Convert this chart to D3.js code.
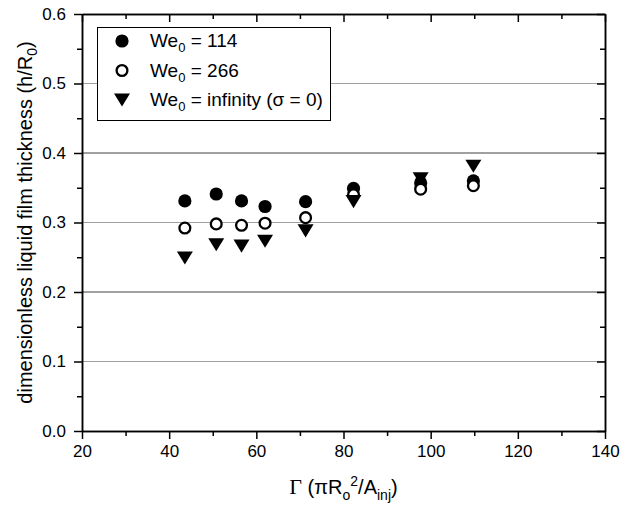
<!DOCTYPE html>
<html>
<head>
    <meta charset="utf-8">
    <title>Dimensionless liquid film thickness</title>
    <style>
        body { margin: 0; background: #fff; }
        svg { display: block; font-family: "Liberation Sans", Arial, sans-serif; }
        .grid line { stroke: #a0a0a0; stroke-width: 1.5px; shape-rendering: crispEdges; }
    </style>
</head>
<body>
<div id="chart"></div>
<script src="https://d3js.org/d3.v7.min.js"></script>
<script type="text/javascript">

// values
var gamma   = [43.6, 50.8, 56.6, 62.0, 71.3, 82.3, 97.7, 109.8];
var we114   = [0.331, 0.341, 0.331, 0.323, 0.330, 0.349, 0.357, 0.360];
var we266   = [0.292, 0.298, 0.296, 0.299, 0.307, 0.340, 0.348, 0.353];
var weInf   = [0.249, 0.268, 0.266, 0.273, 0.288, 0.330, 0.363, 0.381];

var xTicks = [20, 40, 60, 80, 100, 120, 140];
var yTicks = [0.0, 0.1, 0.2, 0.3, 0.4, 0.5, 0.6];
var gridTicks = [0.1, 0.2, 0.3, 0.4, 0.5];

var legendNames = ["114", "266", "infinity (\u03c3 = 0)"];

var width = 621, height = 508;
var plotLeft = 82, plotRight = 605, plotTop = 14, plotBottom = 431;

var x = d3.scaleLinear().domain([20, 140]).range([plotLeft, plotRight]);
var y = d3.scaleLinear().domain([0, 0.6]).range([plotBottom, plotTop]);

var svg = d3.select("#chart")
    .append("svg")
    .attr("width", width)
    .attr("height", height);

// grid lines
svg.append("g")
    .attr("class", "grid")
    .selectAll("line")
    .data(gridTicks)
    .enter().append("line")
    .attr("x1", plotLeft).attr("x2", plotRight)
    .attr("y1", function(d) { return y(d); })
    .attr("y2", function(d) { return y(d); });

// minor ticks every 10 / 0.05
var xMinor = d3.range(30, 140, 20);
var yMinor = [0.05, 0.15, 0.25, 0.35, 0.45, 0.55];

function styleAxis(g) {
    g.selectAll("path, line").attr("stroke", "#000").attr("stroke-width", 1.5);
    g.selectAll("text").attr("fill", "#000").style("font-size", "17px")
        .style("font-family", "'Liberation Sans', Arial, sans-serif");
}

// bottom
svg.append("g")
    .attr("transform", "translate(0," + plotBottom + ")")
    .call(d3.axisBottom(x).tickValues(xTicks).tickSize(8).tickPadding(6).tickSizeOuter(0)
        .tickFormat(d3.format("d")))
    .call(styleAxis);
svg.append("g")
    .attr("transform", "translate(0," + plotBottom + ")")
    .call(d3.axisBottom(x).tickValues(xMinor).tickSize(5).tickFormat("").tickSizeOuter(0))
    .call(styleAxis);

// top (ticks point down, into the plot)
svg.append("g")
    .attr("transform", "translate(0," + plotTop + ")")
    .call(d3.axisBottom(x).tickValues(xTicks).tickSize(8).tickFormat("").tickSizeOuter(0))
    .call(styleAxis);
svg.append("g")
    .attr("transform", "translate(0," + plotTop + ")")
    .call(d3.axisBottom(x).tickValues(xMinor).tickSize(5).tickFormat("").tickSizeOuter(0))
    .call(styleAxis);

// left
svg.append("g")
    .attr("transform", "translate(" + plotLeft + ",0)")
    .call(d3.axisLeft(y).tickValues(yTicks).tickSize(8).tickPadding(8).tickSizeOuter(0)
        .tickFormat(d3.format(".1f")))
    .call(styleAxis);
svg.append("g")
    .attr("transform", "translate(" + plotLeft + ",0)")
    .call(d3.axisLeft(y).tickValues(yMinor).tickSize(5).tickFormat("").tickSizeOuter(0))
    .call(styleAxis);

// right (ticks point left, into the plot)
svg.append("g")
    .attr("transform", "translate(" + plotRight + ",0)")
    .call(d3.axisLeft(y).tickValues(yTicks).tickSize(8).tickFormat("").tickSizeOuter(0))
    .call(styleAxis);
svg.append("g")
    .attr("transform", "translate(" + plotRight + ",0)")
    .call(d3.axisLeft(y).tickValues(yMinor).tickSize(5).tickFormat("").tickSizeOuter(0))
    .call(styleAxis);

// markers
var downTriangle = {
    draw: function(context, size) {
        var w = Math.sqrt(size), h = w * 0.82;
        context.moveTo(-w / 2, -h / 2);
        context.lineTo(w / 2, -h / 2);
        context.lineTo(0, h / 2);
        context.closePath();
    }
};
var filledSym = d3.symbol().type(d3.symbolCircle).size(Math.PI * 6.6 * 6.6);
var openSym = d3.symbol().type(d3.symbolCircle).size(Math.PI * 5.4 * 5.4);
var triSym = d3.symbol().type(downTriangle).size(16 * 16);

function drawSeries(values, sym, fill, stroke) {
    svg.append("g")
        .selectAll("path")
        .data(values)
        .enter().append("path")
        .attr("d", sym)
        .attr("transform", function(d, i) { return "translate(" + x(gamma[i]) + "," + y(d) + ")"; })
        .attr("fill", fill)
        .attr("stroke", stroke)
        .attr("stroke-width", stroke === "none" ? 0 : 2.3);
}
drawSeries(we114, filledSym, "#000", "none");
drawSeries(we266, openSym, "#fff", "#000");
drawSeries(weInf, triSym, "#000", "none");

// legend
var legend = svg.append("g");
legend.append("rect")
    .attr("x", 97.5).attr("y", 27.5)
    .attr("width", 233).attr("height", 93)
    .attr("fill", "#fff").attr("stroke", "#000").attr("stroke-width", 1);

var legendSyms = [
    {sym: filledSym, fill: "#000", stroke: "none"},
    {sym: openSym, fill: "#fff", stroke: "#000"},
    {sym: triSym, fill: "#000", stroke: "none"}
];
legendNames.forEach(function(name, i) {
    var cy = 41 + i * 29.5;
    var s = legendSyms[i];
    legend.append("path")
        .attr("d", s.sym)
        .attr("transform", "translate(122," + cy + ")")
        .attr("fill", s.fill)
        .attr("stroke", s.stroke)
        .attr("stroke-width", s.stroke === "none" ? 0 : 2.3);
    var t = legend.append("text")
        .attr("x", 150).attr("y", cy + 6)
        .style("font-size", "19px");
    t.append("tspan").text("We");
    t.append("tspan").attr("dy", 5).style("font-size", "13px").text("0");
    t.append("tspan").attr("dy", -5).text(" = " + name);
});

// axis titles
var yt = svg.append("text")
    .attr("transform", "translate(32," + ((plotTop + plotBottom) / 2) + ") rotate(-90)")
    .attr("text-anchor", "middle")
    .style("font-size", "20px");
yt.append("tspan").text("dimensionless liquid film thickness (h/R");
yt.append("tspan").attr("dy", 5).style("font-size", "14px").text("0");
yt.append("tspan").attr("dy", -5).text(")");

var xt = svg.append("text")
    .attr("x", (plotLeft + plotRight) / 2).attr("y", 494)
    .attr("text-anchor", "middle")
    .style("font-size", "20px");
xt.append("tspan").style("font-family", "'Liberation Serif', serif").style("font-size", "22px").text("\u0393");
xt.append("tspan").text(" (\u03c0R");
xt.append("tspan").attr("dy", 6).style("font-size", "14px").text("o");
xt.append("tspan").attr("dy", -14).style("font-size", "14px").text("2");
xt.append("tspan").attr("dy", 8).text("/A");
xt.append("tspan").attr("dy", 6).style("font-size", "14px").text("inj");
xt.append("tspan").attr("dy", -6).text(")");

</script>
</body>
</html>
